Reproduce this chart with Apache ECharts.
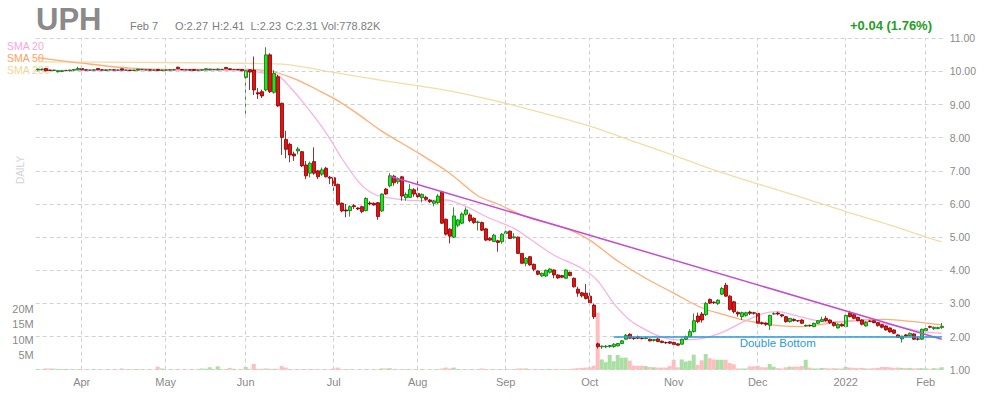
<!DOCTYPE html>
<html><head><meta charset="utf-8">
<script src="https://cdn.jsdelivr.net/npm/echarts@6/dist/echarts.min.js"></script>
<style>html,body{margin:0;padding:0;background:#fff}#c{width:990px;height:400px}</style>
</head><body><div id="c"></div>
<script>
// ---- trading days shown (category axis) ----
const tradingMonths = [
 ['2021-03','17 18 19 22 23 24 25 26 29 30 31'],
 ['2021-04','01 05 06 07 08 09 12 13 14 15 16 19 20 21 22 23 26 27 28 29 30'],
 ['2021-05','03 04 05 06 07 10 11 12 13 14 17 18 19 20 21 24 25 26 27 28'],
 ['2021-06','01 02 03 04 07 08 09 10 11 14 15 16 17 18 21 22 23 24 25 28 29 30'],
 ['2021-07','01 02 06 07 08 09 12 13 14 15 16 19 20 21 22 23 26 27 28 29 30'],
 ['2021-08','02 03 04 05 06 09 10 11 12 13 16 17 18 19 20 23 24 25 26 27 30 31'],
 ['2021-09','01 02 03 07 08 09 10 13 14 15 16 17 20 21 22 23 24 27 28 29 30'],
 ['2021-10','01 04 05 06 07 08 11 12 13 14 15 18 19 20 21 22 25 26 27 28 29'],
 ['2021-11','01 02 03 04 05 08 09 10 11 12 15 16 17 18 19 22 23 24 26 29 30'],
 ['2021-12','01 02 03 06 07 08 09 10 13 14 15 16 17 20 21 22 23 27 28 29 30 31'],
 ['2022-01','03 04 05 06 07 10 11 12 13 14 18 19 20 21 24 25 26 27 28 31'],
 ['2022-02','01 02 03 04 07']
];
const monthNames = ['Jan','Feb','Mar','Apr','May','Jun','Jul','Aug','Sep','Oct','Nov','Dec'];

// ---- daily candles [open, high, low, close] ----
const candlesMar21 = [
 [10.05,10.08,10.02,10.07],[10.06,10.08,10.03,10.07],[10.09,10.10,10.01,10.02],[10.04,10.05,10.02,10.03],
 [10.03,10.05,10.02,10.04],[9.99,10.03,9.97,10.02],[10.00,10.03,9.98,10.02],[10.03,10.04,10.01,10.03],
 [10.02,10.05,10.00,10.04],[10.04,10.07,10.03,10.06],[10.05,10.14,10.04,10.09]];
const candlesApr21 = [
 [10.09,10.15,10.04,10.05],[10.05,10.06,10.03,10.04],[10.04,10.05,10.03,10.04],[10.04,10.06,10.03,10.05],
 [10.09,10.10,10.04,10.05],[10.05,10.06,10.03,10.04],[10.03,10.06,10.02,10.05],[10.05,10.06,10.04,10.05],
 [10.05,10.06,10.03,10.04],[10.04,10.05,10.03,10.04],[10.08,10.09,10.03,10.04],[10.04,10.05,10.03,10.04],
 [10.04,10.05,10.02,10.03],[10.03,10.05,10.02,10.04],[10.04,10.08,10.03,10.07],[10.06,10.07,10.05,10.06],
 [10.05,10.06,10.04,10.05],[10.05,10.06,10.03,10.04],[10.04,10.05,10.03,10.04],[10.06,10.07,10.02,10.03],
 [10.03,10.05,10.02,10.04]];
const candlesMay21 = [
 [10.04,10.05,10.03,10.04],[10.04,10.06,10.03,10.05],[10.05,10.06,10.04,10.05],[10.13,10.14,10.07,10.08],
 [10.06,10.07,10.04,10.05],[10.05,10.06,10.04,10.05],[10.05,10.06,10.03,10.04],[10.06,10.07,10.02,10.03],
 [10.04,10.05,10.03,10.04],[10.04,10.06,10.03,10.05],[10.05,10.09,10.04,10.08],[10.05,10.08,10.04,10.07],
 [10.06,10.07,10.05,10.06],[10.05,10.09,10.04,10.07],[10.06,10.07,10.05,10.06],[10.12,10.13,10.07,10.08],
 [10.08,10.09,10.05,10.06],[10.06,10.07,10.05,10.06],[10.06,10.07,10.04,10.05],[10.06,10.07,10.01,10.02]];
const candlesJun21 = [
 [9.82,10.03,8.66,10.02],[10.05,10.06,9.44,9.98],[10.04,10.45,9.29,9.44],[9.36,9.50,9.17,9.32],
 [9.39,9.45,9.20,9.26],[9.44,10.73,9.40,10.50],[10.50,10.55,9.35,9.39],[9.37,10.04,9.33,9.94],
 [9.84,9.90,8.93,8.96],[9.04,9.06,7.48,8.01],[7.95,8.21,7.38,7.65],[7.80,7.85,7.26,7.48],
 [7.51,7.58,7.30,7.45],[7.60,7.72,7.50,7.66],[7.58,7.60,7.12,7.15],[7.18,7.30,6.75,6.85],
 [6.93,7.28,6.80,7.23],[7.28,7.71,6.88,6.93],[7.00,7.02,6.75,6.82],[6.90,7.10,6.85,7.03],
 [7.08,7.12,6.80,6.82],[6.81,6.85,6.60,6.78]];
const candlesJul21 = [
 [6.79,6.82,6.32,6.55],[6.59,6.62,5.95,5.99],[6.02,6.05,5.75,5.79],[5.82,6.00,5.60,5.79],
 [5.80,5.96,5.62,5.92],[5.95,6.00,5.85,5.92],[5.88,5.90,5.82,5.85],[5.92,5.95,5.72,5.77],
 [5.80,6.20,5.78,6.17],[6.03,6.08,5.96,6.00],[6.02,6.05,5.95,5.97],[6.04,6.06,5.52,5.62],
 [5.79,6.32,5.76,6.30],[6.45,6.48,6.28,6.30],[6.55,6.93,6.50,6.85],[6.84,6.88,6.55,6.64],
 [6.67,6.80,6.60,6.75],[6.82,6.85,6.10,6.24],[6.19,6.35,6.10,6.29],[6.20,6.60,6.18,6.44],
 [6.43,6.48,6.22,6.30]];
const candlesAug21 = [
 [6.32,6.69,6.18,6.22],[6.19,6.32,6.05,6.29],[6.20,6.25,6.10,6.14],[6.12,6.15,6.03,6.07],
 [6.02,6.12,5.93,6.09],[6.04,6.30,6.00,6.24],[6.37,6.40,5.40,5.42],[5.54,5.56,5.05,5.09],
 [5.24,5.27,4.81,5.03],[5.00,5.90,4.97,5.64],[5.36,5.55,5.30,5.52],[5.42,5.75,5.40,5.70],
 [5.69,5.90,5.65,5.82],[5.67,5.72,5.45,5.50],[5.57,5.60,5.40,5.44],[5.44,5.50,5.20,5.46],
 [5.44,5.47,5.18,5.21],[5.25,5.27,4.88,4.91],[4.97,5.00,4.88,4.91],[4.87,5.10,4.85,5.06],
 [4.89,4.92,4.56,4.84],[4.86,5.12,4.80,5.09]];
const candlesSep21 = [
 [5.11,5.20,5.08,5.16],[5.18,5.20,4.95,4.96],[4.98,5.12,4.95,5.01],[5.00,5.02,4.49,4.51],
 [4.51,4.52,4.20,4.21],[4.21,4.40,4.12,4.36],[4.41,4.43,4.14,4.16],[4.18,4.20,3.97,4.03],
 [3.98,4.00,3.85,3.88],[3.83,3.93,3.80,3.91],[3.83,4.02,3.80,4.00],[3.94,4.06,3.90,4.04],
 [4.01,4.03,3.76,3.86],[3.86,3.88,3.74,3.77],[3.84,3.86,3.76,3.79],[3.76,4.03,3.74,4.01],
 [3.94,3.96,3.82,3.84],[3.76,3.78,3.48,3.50],[3.43,3.50,3.20,3.31],[3.32,3.35,3.18,3.23],
 [3.31,3.59,3.12,3.15]];
const candlesOct21 = [
 [3.22,3.40,3.00,3.02],[2.95,3.00,2.53,2.60],[1.78,1.82,1.64,1.70],[1.69,1.73,1.63,1.71],
 [1.69,1.74,1.65,1.71],[1.70,1.75,1.66,1.73],[1.70,1.80,1.66,1.77],[1.72,1.81,1.70,1.79],
 [1.79,1.90,1.77,1.87],[1.92,2.08,1.90,2.04],[2.07,2.10,1.93,1.95],[1.96,1.98,1.90,1.94],
 [1.99,2.03,1.92,1.95],[1.95,1.97,1.91,1.94],[1.94,1.98,1.92,1.96],[1.92,1.94,1.85,1.87],
 [1.88,1.93,1.85,1.91],[1.93,1.95,1.83,1.85],[1.86,1.88,1.80,1.82],[1.82,1.85,1.78,1.81],
 [1.84,1.86,1.78,1.80]];
const candlesNov21 = [
 [1.82,1.85,1.74,1.76],[1.78,1.80,1.72,1.74],[1.77,1.94,1.75,1.92],[1.92,2.03,1.90,2.00],
 [2.00,2.22,1.98,2.15],[2.15,2.70,2.12,2.48],[2.62,2.72,2.40,2.45],[2.68,2.74,2.42,2.50],
 [2.66,3.05,2.62,3.00],[3.12,3.15,2.98,3.01],[3.04,3.06,2.98,3.02],[3.00,3.12,2.95,3.10],
 [3.28,3.50,3.25,3.45],[3.55,3.62,3.20,3.22],[3.22,3.25,2.78,2.82],[3.05,3.08,2.70,2.75],
 [2.73,2.76,2.60,2.68],[2.60,2.75,2.50,2.72],[2.64,2.75,2.60,2.72],[2.74,2.78,2.65,2.70],
 [2.72,2.75,2.66,2.70]];
const candlesDec21 = [
 [2.70,2.74,2.38,2.40],[2.42,2.45,2.36,2.39],[2.41,2.43,2.32,2.37],[2.34,2.66,2.20,2.64],
 [2.68,2.73,2.66,2.69],[2.71,2.75,2.64,2.68],[2.66,2.68,2.58,2.62],[2.60,2.62,2.42,2.45],
 [2.45,2.56,2.42,2.55],[2.52,2.55,2.45,2.48],[2.48,2.50,2.44,2.47],[2.50,2.52,2.38,2.40],
 [2.32,2.36,2.30,2.34],[2.34,2.36,2.30,2.33],[2.30,2.42,2.28,2.40],[2.40,2.50,2.38,2.48],
 [2.46,2.60,2.44,2.52],[2.55,2.62,2.45,2.48],[2.50,2.52,2.38,2.42],[2.42,2.45,2.30,2.33],
 [2.26,2.40,2.24,2.37],[2.37,2.40,2.30,2.32]];
const candlesJan22 = [
 [2.30,2.66,2.28,2.64],[2.72,2.78,2.58,2.60],[2.66,2.68,2.52,2.55],[2.58,2.60,2.46,2.48],
 [2.50,2.52,2.34,2.37],[2.32,2.46,2.30,2.43],[2.47,2.50,2.44,2.46],[2.48,2.50,2.40,2.42],
 [2.42,2.44,2.30,2.33],[2.36,2.38,2.25,2.28],[2.32,2.34,2.18,2.20],[2.26,2.28,2.12,2.14],
 [2.20,2.22,2.08,2.10],[2.05,2.07,1.96,1.98],[1.93,2.03,1.82,2.01],[2.05,2.08,2.00,2.02],
 [2.03,2.12,2.00,2.10],[2.08,2.10,1.90,1.92],[1.93,2.00,1.88,1.92],[1.92,2.24,1.90,2.22]];
const candlesFeb22 = [
 [2.18,2.26,2.15,2.24],[2.30,2.33,2.25,2.28],[2.24,2.30,2.20,2.28],[2.24,2.30,2.22,2.27],
 [2.27,2.41,2.23,2.31]];

// ---- daily volume, millions of shares ----
const volMar21 = [0.15,0.15,0.4,0.4,0.35,0.2,0.2,0.2,0.15,0.15,0.15];
const volApr21 = [0.15,0.1,0.1,0.1,0.15,0.1,0.1,0.1,0.1,0.1,0.4,0.15,0.15,0.15,0.2,0.15,0.1,0.1,0.1,1.0,0.4];
const volMay21 = [0.1,0.1,0.1,0.2,0.1,0.1,0.1,0.15,0.1,0.4,0.3,0.8,0.15,1.1,0.15,0.2,0.6,0.3,0.15,0.2];
const volJun21 = [0.9,0.3,1.9,0.3,0.3,0.4,0.3,0.3,0.3,1.2,0.7,0.2,0.15,0.15,0.15,0.2,0.15,0.2,0.15,0.1,0.1,0.15];
const volJul21 = [0.4,0.7,0.2,0.15,0.15,0.1,0.1,0.1,0.15,0.1,0.1,0.2,0.4,0.4,0.5,0.2,0.15,0.2,0.15,0.15,0.1];
const volAug21 = [0.1,0.15,0.1,0.1,0.1,0.15,0.4,0.7,0.4,0.7,0.2,0.15,0.15,0.15,0.15,0.15,0.4,0.2,0.15,0.15,0.15,0.15];
const volSep21 = [0.15,0.15,0.1,0.4,0.4,0.4,0.2,0.2,0.2,0.15,0.15,0.25,0.2,0.15,0.15,0.2,0.15,0.4,0.5,0.6,0.7];
const volOct21 = [0.8,1.3,18.9,3.4,2.5,4.9,2.8,4.9,4.0,4.0,3.0,1.3,1.3,1.3,1.2,0.9,0.8,0.7,0.7,0.7,1.2];
const volNov21 = [3.2,0.8,3.4,2.7,3.0,5.0,1.6,3.1,5.2,3.8,3.4,3.3,3.3,3.3,2.2,1.8,0.4,0.4,0.4,1.1,1.1];
const volDec21 = [1.3,0.8,0.8,1.9,1.0,0.5,0.4,0.8,1.0,1.0,1.0,1.2,3.3,0.7,0.4,0.4,0.6,0.5,0.4,0.5,0.4,0.4];
const volJan22 = [0.9,0.7,0.6,0.5,0.6,0.4,0.4,0.5,0.6,0.9,0.9,0.8,0.6,0.7,0.6,0.5,0.6,0.4,0.5,0.5];
const volFeb22 = [0.4,0.3,0.5,0.4,0.78];

// ---- moving averages: [trading-day number, value] ----
const sma20Pts = [[0,10.03],[52,10.03],[56,9.96],[60,9.88],[63,9.54],[66,9.12],[70,8.50],[73,7.98],[76,7.38],
 [80,6.70],[83,6.37],[86,6.22],[95,6.10],[102,6.12],[107,5.93],[113,5.57],[119,5.27],[123,4.95],[129,4.46],
 [136,4.06],[140,3.68],[144,3.0],[148,2.5],[152,2.2],[156,1.98],[160,1.9],[165,1.92],[171,2.12],[176,2.42],
 [181,2.68],[185,2.75],[189,2.65],[194,2.50],[198,2.43],[204,2.48],[211,2.40],[216,2.28],[221,2.15],[226,2.10]];
const sma50Pts = [[0,10.42],[11,10.25],[23,10.1],[36,10.06],[52,10.06],[59,9.99],[65,9.74],[70,9.44],[75,9.12],
 [80,8.72],[86,8.2],[95,7.55],[103,6.93],[110,6.25],[115,6.0],[122,5.62],[129,5.37],[133,5.22],[138,4.91],
 [145,4.28],[152,3.76],[159,3.31],[166,2.87],[171,2.68],[176,2.51],[181,2.40],[186,2.32],[191,2.30],[196,2.37],
 [201,2.44],[206,2.5],[212,2.52],[219,2.45],[226,2.35]];
const sma200Pts = [[0,10.29],[28,10.27],[48,10.25],[61,10.22],[74,9.97],[88,9.69],[95,9.57],[106,9.34],[117,9.04],
 [127,8.72],[138,8.35],[148,7.93],[159,7.47],[169,7.03],[180,6.61],[191,6.20],[202,5.77],[213,5.37],[222,5.01],[226,4.86]];

// ---- drawn annotations ----
const trendLine = [['2021-07-22', 6.84], ['2022-02-07', 1.92]];
const doubleBottom = [['2021-10-11', 1.98], ['2022-02-07', 1.98]];
const priceTicks = [1,2,3,4,5,6,7,8,9,10,11];
const volumeTicks = [5,10,15,20];
const header = {symbol:'UPH', date:'Feb 7', o:'O:2.27', h:'H:2.41', l:'L:2.23', c:'C:2.31', vol:'Vol:778.82K', change:'+0.04 (1.76%)'};

// ---- build ----
const dates = [];
tradingMonths.forEach(([ym, days]) => days.split(' ').forEach(d => dates.push(ym + '-' + d)));
const candles = [].concat(candlesMar21, candlesApr21, candlesMay21, candlesJun21, candlesJul21, candlesAug21,
  candlesSep21, candlesOct21, candlesNov21, candlesDec21, candlesJan22, candlesFeb22);
const volumes = [].concat(volMar21, volApr21, volMay21, volJun21, volJul21, volAug21, volSep21, volOct21,
  volNov21, volDec21, volJan22, volFeb22);
const isMonthStart = i => i > 0 && dates[i].slice(0,7) !== dates[i-1].slice(0,7);
const monthLabel = i => dates[i].slice(5,7) === '01' ? dates[i].slice(0,4) : monthNames[+dates[i].slice(5,7) - 1];
const monthStarts = dates.map((d,i) => i).filter(isMonthStart);
const lastClose = candles[candles.length - 1][3];
const toPts = pts => pts.map(p => [dates[p[0]], p[1]]);

const UP_FILL = '#18ea18', UP_LINE = '#0b700b', DN_FILL = '#f20c0c', DN_LINE = '#7c0000';
const GRAY = '#8a8a8a', GRID = '#d2d2d2';
const FONT = '"Liberation Sans", Arial, Helvetica, sans-serif';
const L = 35.7, R = 46.3, TOP = 38.3, H = 331.4;

const chart = echarts.init(document.getElementById('c'), null, {renderer: 'svg'});
chart.setOption({
  animation: false,
  backgroundColor: '#ffffff',
  textStyle: {fontFamily: FONT},
  grid: [
    {left: L, right: R, top: TOP, height: H, outerBoundsMode: 'none', containLabel: false},
    {left: L, right: R, top: TOP + H - 60.4, height: 60.4, outerBoundsMode: 'none', containLabel: false}
  ],
  xAxis: [
    {type: 'category', gridIndex: 0, data: dates, boundaryGap: true,
     axisLine: {show: false}, axisTick: {show: false}, splitLine: {show: false},
     axisLabel: {interval: (i) => isMonthStart(i), formatter: (v, i) => monthLabel(i),
       color: GRAY, fontSize: 11, margin: 7, fontFamily: FONT}},
    {type: 'category', gridIndex: 1, data: dates, boundaryGap: true, show: false}
  ],
  yAxis: [
    {type: 'value', gridIndex: 0, position: 'right', min: priceTicks[0], max: priceTicks[priceTicks.length-1], interval: 1,
     axisLine: {show: false}, axisTick: {show: false},
     axisLabel: {formatter: v => v.toFixed(2), color: GRAY, fontSize: 10.5, margin: 6, fontFamily: FONT},
     splitLine: {show: true, lineStyle: {color: GRID, type: [4, 3], width: 1}}},
    {type: 'value', gridIndex: 1, position: 'left', min: 0, max: volumeTicks[volumeTicks.length-1], interval: 5,
     axisLine: {show: false}, axisTick: {show: false}, splitLine: {show: false},
     axisLabel: {formatter: v => (volumeTicks.indexOf(v) >= 0 ? v + 'M' : ''), color: GRAY, fontSize: 11, margin: 2, fontFamily: FONT}}
  ],
  series: [
    {name: 'month grid', type: 'line', xAxisIndex: 0, yAxisIndex: 0, data: [], z: 0, silent: true,
     markLine: {silent: true, symbol: ['none','none'], animation: false,
       lineStyle: {color: GRID, type: [4, 3], width: 1}, label: {show: false},
       data: monthStarts.map(i => ({xAxis: dates[i]}))}},
    {name: 'Volume', type: 'bar', xAxisIndex: 1, yAxisIndex: 1, barWidth: '100%', z: 1, silent: true,
     data: volumes.map((v, i) => ({value: v, itemStyle: {color: candles[i][3] >= candles[i][0] ? '#a9dfa2' : '#ffbdbd'}}))},
    {name: 'SMA 200', type: 'line', data: toPts(sma200Pts), smooth: 0.3, symbol: 'none', z: 2, silent: true,
     lineStyle: {color: '#f3dca6', width: 1.3}},
    {name: 'SMA 50', type: 'line', data: toPts(sma50Pts), smooth: 0.3, symbol: 'none', z: 2, silent: true,
     lineStyle: {color: '#ffad75', width: 1.3}},
    {name: 'SMA 20', type: 'line', data: toPts(sma20Pts), smooth: 0.3, symbol: 'none', z: 2, silent: true,
     lineStyle: {color: '#f5b2e6', width: 1.3}},
    {name: 'UPH', type: 'candlestick', xAxisIndex: 0, yAxisIndex: 0, barWidth: 3.6, z: 3, silent: true,
     data: candles.map(c => [c[0], c[3], c[2], c[1]]),
     itemStyle: {color: UP_FILL, color0: DN_FILL, borderColor: UP_LINE, borderColor0: DN_LINE, borderColorDoji: '#444', borderWidth: 0.8},
     markLine: {silent: true, symbol: ['none','none'], animation: false,
       lineStyle: {opacity: 0, width: 0},
       label: {show: true, position: 'end', distance: 4, formatter: lastClose.toFixed(2), color: '#444', fontSize: 11,
         backgroundColor: '#f7f700', padding: [1, 3, 0, 3], fontFamily: FONT},
       data: [{yAxis: lastClose}]}},
    {name: 'Trend', type: 'line', data: [], z: 4, silent: true,
     markLine: {silent: true, symbol: ['none','none'], animation: false,
       lineStyle: {color: '#c24ed2', width: 1.5, type: 'solid'}, label: {show: false},
       data: [[{coord: trendLine[0]}, {coord: trendLine[1]}]]}},
    {name: 'Double Bottom', type: 'line', data: [], z: 4, silent: true,
     markLine: {silent: true, symbol: ['none','none'], animation: false,
       lineStyle: {color: '#2a9ad8', width: 1.5, type: 'solid'},
       label: {show: true, position: 'insideMiddleBottom', formatter: 'Double Bottom', color: '#2a9ad8', fontSize: 11.5, distance: 0, fontFamily: FONT},
       data: [[{coord: doubleBottom[0]}, {coord: doubleBottom[1]}]]}}
  ],
  graphic: [
    {type: 'text', x: 36, y: 19, silent: true, style: {text: header.symbol, font: 'bold 31px ' + FONT, fill: '#8a8a8a', align: 'left', verticalAlign: 'middle'}},
    {type: 'text', x: 130, y: 25.5, silent: true, style: {text: header.date, font: '11px ' + FONT, fill: '#7d7d7d', align: 'left', verticalAlign: 'middle'}},
    {type: 'text', x: 175, y: 25.5, silent: true, style: {text: header.o, font: '11px ' + FONT, fill: '#7d7d7d', align: 'left', verticalAlign: 'middle'}},
    {type: 'text', x: 212, y: 25.5, silent: true, style: {text: header.h, font: '11px ' + FONT, fill: '#7d7d7d', align: 'left', verticalAlign: 'middle'}},
    {type: 'text', x: 250.5, y: 25.5, silent: true, style: {text: header.l, font: '11px ' + FONT, fill: '#7d7d7d', align: 'left', verticalAlign: 'middle'}},
    {type: 'text', x: 285.5, y: 25.5, silent: true, style: {text: header.c, font: '11px ' + FONT, fill: '#7d7d7d', align: 'left', verticalAlign: 'middle'}},
    {type: 'text', x: 321, y: 25.5, silent: true, style: {text: header.vol, font: '11px ' + FONT, fill: '#7d7d7d', align: 'left', verticalAlign: 'middle'}},
    {type: 'text', x: 932, y: 25, silent: true, style: {text: header.change, font: 'bold 13px ' + FONT, fill: '#22a022', align: 'right', verticalAlign: 'middle'}},
    {type: 'text', x: 7, y: 45.7, silent: true, style: {text: 'SMA 20', font: '10.5px ' + FONT, fill: '#f5a8e0', align: 'left', verticalAlign: 'middle'}},
    {type: 'text', x: 7, y: 58.3, silent: true, style: {text: 'SMA 50', font: '10.5px ' + FONT, fill: '#ffa060', align: 'left', verticalAlign: 'middle'}},
    {type: 'text', x: 7, y: 69.7, silent: true, style: {text: 'SMA 200', font: '10.5px ' + FONT, fill: '#f0d594', align: 'left', verticalAlign: 'middle'}},
    {type: 'text', x: 20, y: 170, rotation: Math.PI / 2, silent: true, style: {text: 'DAILY', font: '10px ' + FONT, fill: '#d4d4d4', align: 'center', verticalAlign: 'middle'}}
  ]
});
</script>
</body></html>
